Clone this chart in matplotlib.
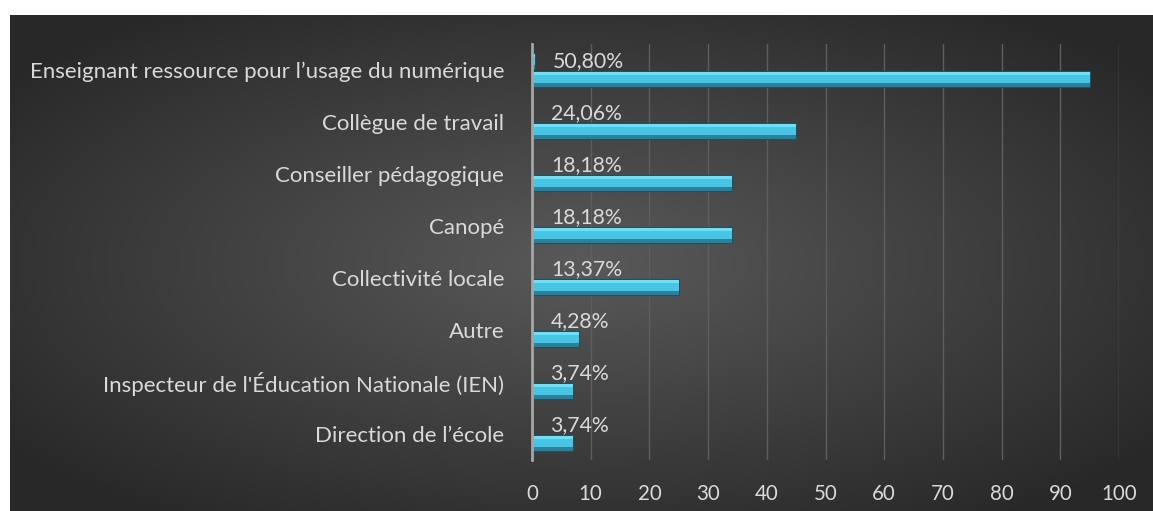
import matplotlib
matplotlib.use("Agg")
import matplotlib.pyplot as plt
import numpy as np

plt.rcParams['font.family'] = ['Lato', 'DejaVu Sans']

categories = [
    "Enseignant ressource pour l\u2019usage du num\u00e9rique",
    "Coll\u00e8gue de travail",
    "Conseiller p\u00e9dagogique",
    "Canop\u00e9",
    "Collectivit\u00e9 locale",
    "Autre",
    "Inspecteur de l'\u00c9ducation Nationale (IEN)",
    "Direction de l\u2019\u00e9cole",
]
counts = [95, 45, 34, 34, 25, 8, 7, 7]
shares = [0.5080, 0.2406, 0.1818, 0.1818, 0.1337, 0.0428, 0.0374, 0.0374]
xticks = [0, 10, 20, 30, 40, 50, 60, 70, 80, 90, 100]

TXT = '#D9D9D9'
W, H = 1153, 511

fig = plt.figure(figsize=(W / 100, H / 100), dpi=100)
fig.patch.set_facecolor('white')

# dark radial background of the chart area
bg = fig.add_axes([10 / W, 0, (W - 10) / W, (H - 15) / H])
bg.set_axis_off()
yy, xx = np.mgrid[-1:1:300j, -1:1:600j]
r = np.clip(np.sqrt(xx ** 2 + yy ** 2) / 1.25, 0, 1)
shade = 0.35 - 0.19 * r
bg.imshow(np.dstack([shade, shade, shade]), aspect='auto', extent=[0, 1, 0, 1],
          interpolation='bilinear')
bg.set_xlim(0, 1)
bg.set_ylim(0, 1)

ax = fig.add_axes([532 / W, 1 - 460 / H, 587 / W, 416 / H])
ax.set_facecolor('none')
ax.set_xlim(0, 100)
ax.set_ylim(len(categories) - 0.5, -0.5)

ypos = np.arange(len(categories))
h = 0.30
off = 0.17


def bevel_bars(y, widths):
    # stacked layers give the bevelled, glossy look
    ax.barh(y, widths, height=h, color='#2B819B', edgecolor='#1C5263', linewidth=0.8, zorder=3)
    ax.barh(y - h * 0.08, widths, height=h * 0.70, color='#48C4E4', linewidth=0, zorder=4)
    ax.barh(y - h * 0.33, widths, height=h * 0.16, color='#72DEF5', linewidth=0, zorder=5)


bevel_bars(ypos + off, counts)
bevel_bars(ypos - off, shares)

for y, s in zip(ypos, shares):
    lbl = f"{s * 100:.2f}%".replace('.', ',')
    ax.annotate(lbl, (s, y - off), xytext=(13, 0), textcoords='offset points',
                va='center', ha='left', color=TXT, fontsize=15.3, zorder=6)

ax.set_yticks(ypos)
ax.set_yticklabels(categories, color=TXT, fontsize=16)
ax.set_xticks(xticks)
ax.set_xticklabels([str(t) for t in xticks], color=TXT, fontsize=14.8)
ax.tick_params(axis='both', length=0)
ax.tick_params(axis='y', pad=20)
ax.tick_params(axis='x', pad=17)

ax.grid(axis='x', color='#5E5E5E', linewidth=1.0, zorder=0)
ax.set_axisbelow(True)
for side in ['top', 'right', 'bottom']:
    ax.spines[side].set_visible(False)
ax.spines['left'].set_color('#A6A6A6')
ax.spines['left'].set_linewidth(2)
ax.spines['left'].set_zorder(7)

fig.savefig('out.png', dpi=100)
